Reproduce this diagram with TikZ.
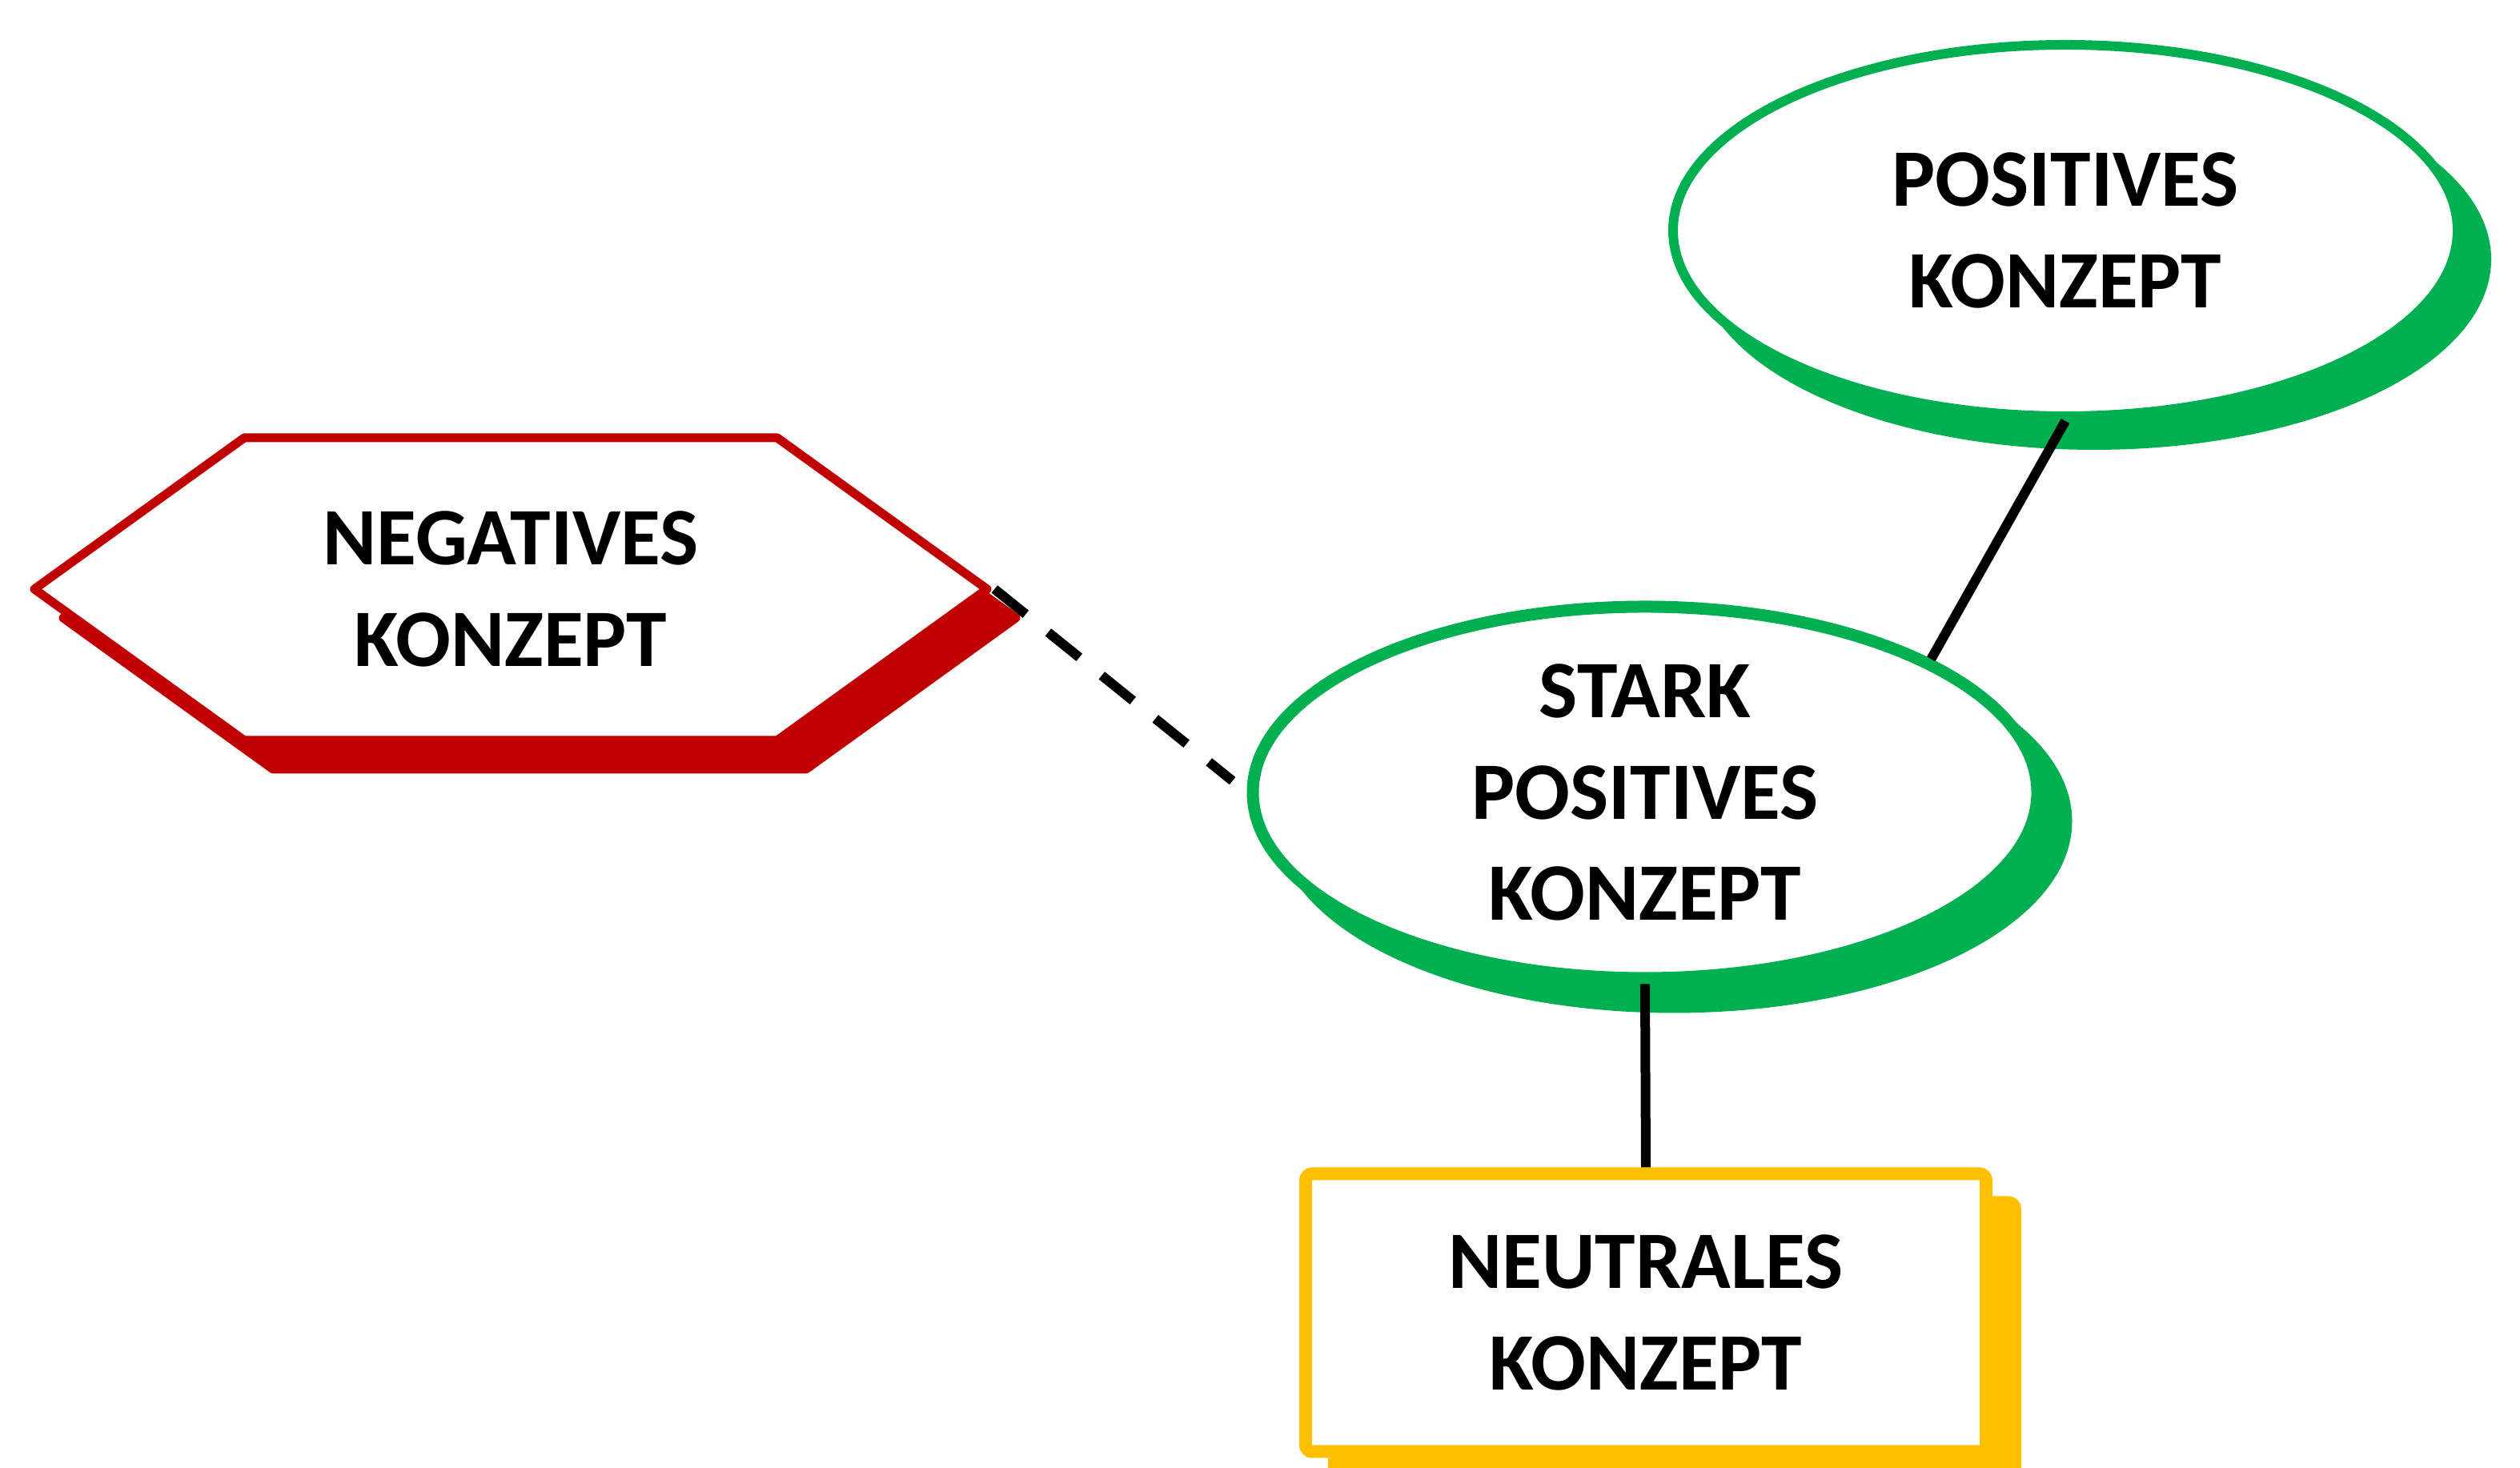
\documentclass[tikz,border=0pt]{standalone}
\usepackage{fontspec}
\setmainfont{Carlito}
\usetikzlibrary{shapes.geometric,shapes.symbols,shadows}
\definecolor{rot}{HTML}{C00000}
\definecolor{gruen}{HTML}{00B050}
\definecolor{gelb}{HTML}{FFC000}

\begin{document}
\begin{tikzpicture}[
		schrift/.style={font=\fontsize{29}{36}\selectfont\bfseries, align=center},
		schatten/.style={general shadow={shadow xshift=0.36cm, shadow yshift=-0.36cm, fill=#1, draw=#1}},
		blase/.style={ellipse, draw=gruen, fill=white, minimum width=9.8cm, minimum height=4.64cm, inner sep=0pt, schatten=gruen},
		verbindung/.style={line width=0.12cm, black}]
			%%%%% START %%%%%
			
			\useasboundingbox (0, 0) rectangle (31.48, 18.34);
			
			\node[signal, signal to=west and east, signal pointer angle=71.6, draw=rot, fill=white, line width=0.11cm, line join=round, minimum width=11.9cm, minimum height=3.78cm, schatten=rot, schrift] (negativ) at (6.38, 10.98) {NEGATIVES\\KONZEPT};
			
			\node[blase, line width=0.15cm, label={[schrift]center:STARK\\POSITIVES\\KONZEPT}] (starkpositiv) at (20.55, 8.44) {};
			
			\node[blase, line width=0.12cm, label={[schrift]center:POSITIVES\\KONZEPT}] (positiv) at (25.80, 15.46) {};
			
			\node[rectangle, rounded corners=0.08cm, draw=gelb, fill=white, line width=0.16cm, minimum width=8.5cm, minimum height=3.47cm, schatten=gelb, schrift] (neutral) at (20.56, 1.94) {NEUTRALES\\KONZEPT};
			
			\draw[verbindung, dash pattern=on 0.5cm off 0.36cm, shorten >=0.23cm] (negativ.east) -- (starkpositiv.west);
			\draw[verbindung] (positiv.south) -- (starkpositiv.25);
			\draw[verbindung] (starkpositiv.south) -- (neutral.north);
			
			%%%%% END %%%%%
\end{tikzpicture}
\end{document}
